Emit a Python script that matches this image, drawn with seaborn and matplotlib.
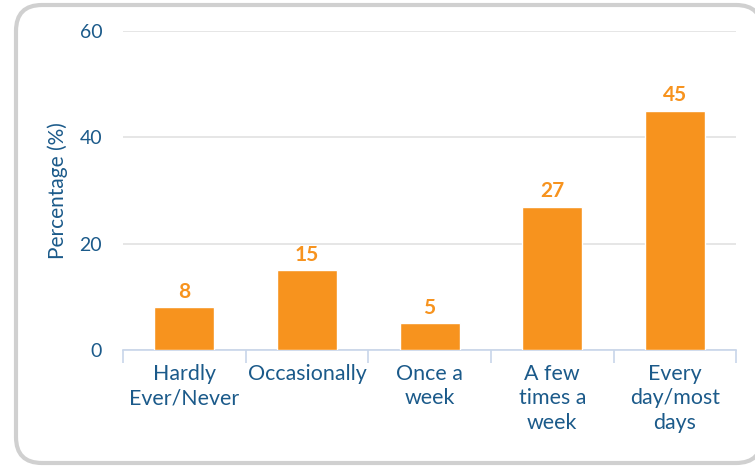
import numpy as np
import pandas as pd
import matplotlib
matplotlib.use("Agg")
import matplotlib.pyplot as plt
from matplotlib.patches import FancyBboxPatch
from matplotlib.transforms import IdentityTransform
import seaborn as sns

# Datos del gráfico
categorias = ["Hardly\nEver/Never", "Occasionally", "Once a\nweek",
              "A few\ntimes a\nweek", "Every\nday/most\ndays"]
porcentajes = [8, 15, 5, 27, 45]
marcas_y = [0, 20, 40, 60]

naranja = "#F7931E"
azul = "#1B5A8A"
gris = "#E2E2E2"

sns.set_style("white")
plt.rcParams["font.family"] = ["Lato", "DejaVu Sans"]

df = pd.DataFrame({"categoria": categorias, "porcentaje": porcentajes})

fig = plt.figure(figsize=(7.55, 4.66), dpi=100)
ax = fig.add_axes([0.163, 0.249, 0.812, 0.684])

sns.barplot(data=df, x="categoria", y="porcentaje", color=naranja,
            width=0.49, saturation=1, ax=ax, zorder=3)

ax.set_xlim(-0.5, len(categorias) - 0.5)
ax.set_ylim(0, 60)
ax.set_yticks(marcas_y)
ax.grid(axis="y", color=gris, linewidth=1.2, zorder=0)
ax.set_axisbelow(True)

# Etiquetas de valores
for cont in ax.containers:
    ax.bar_label(cont, padding=4, color=naranja, fontsize=15,
                 fontweight="bold")

# Ejes y ticks
for lado in ["top", "right", "left"]:
    ax.spines[lado].set_visible(False)
ax.spines["bottom"].set_color("#C8D6EA")
ax.spines["bottom"].set_linewidth(1.2)

ax.set_xticks(np.arange(-0.5, len(categorias)), minor=True)
ax.tick_params(axis="x", which="minor", length=9.5, width=1.2,
               color="#C8D6EA", bottom=True)
ax.tick_params(axis="x", which="major", length=0, pad=10,
               labelsize=15.4, labelcolor=azul)
ax.tick_params(axis="y", length=0, pad=15, labelsize=14, labelcolor=azul)
for t in ax.get_xticklabels():
    t.set_linespacing(1.28)

ax.set_xlabel("")
ax.set_ylabel("Percentage (%)", fontsize=15, color=azul, labelpad=8)

# Marco redondeado (relleno blanco detrás de los ejes)
marco = FancyBboxPatch((16, 3), 746, 458,
                       boxstyle="round,pad=0,rounding_size=26",
                       transform=IdentityTransform(), facecolor="white",
                       edgecolor="#D0D0D0", linewidth=3, clip_on=False,
                       zorder=-1)
fig.patches.append(marco)

fig.savefig("out.png", dpi=100)
